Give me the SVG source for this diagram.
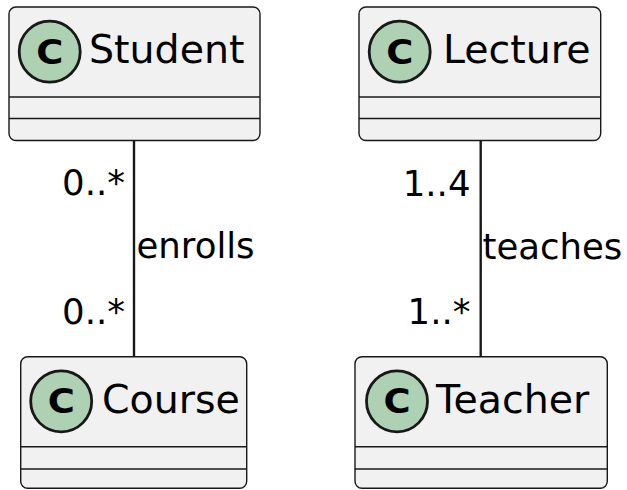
<svg xmlns="http://www.w3.org/2000/svg" width="627" height="490" viewBox="0 0 627 490">
  <style>
    .box { fill: #F1F1F1; stroke: #181818; stroke-width: 1.4; }
    .sep { stroke: #181818; stroke-width: 1.4; }
    .badge { fill: #ADD1B2; stroke: #181818; stroke-width: 2.8; }
    .badge-letter { font-family: "DejaVu Sans", sans-serif; font-weight: bold; font-size: 33px; fill: #000; text-anchor: middle; }
    .name { font-family: "DejaVu Sans", sans-serif; font-size: 39.5px; fill: #000; }
    .link { stroke: #181818; stroke-width: 2.4; fill: none; }
    .label { font-family: "DejaVu Sans", sans-serif; font-size: 35.5px; fill: #000; }
    .mult { font-family: "DejaVu Sans", sans-serif; font-size: 35.5px; fill: #000; text-anchor: end; }
  </style>
  <rect width="627" height="490" fill="#FFFFFF"/>

  <g id="connectors">
    <line class="link" x1="134" y1="140.5" x2="134" y2="356.5"/>
    <text class="mult" x="125" y="195">0..*</text>
    <text class="label" x="136.5" y="258">enrolls</text>
    <text class="mult" x="125" y="324">0..*</text>

    <line class="link" x1="480.7" y1="140.5" x2="480.7" y2="356.5"/>
    <text class="mult" x="470.5" y="196">1..4</text>
    <text class="label" x="482.5" y="259">teaches</text>
    <text class="mult" x="470.5" y="324">1..*</text>
  </g>

  <g id="Student">
    <rect class="box" x="9" y="7" width="251" height="133.5" rx="7"/>
    <line class="sep" x1="9" y1="97" x2="260" y2="97"/>
    <line class="sep" x1="9" y1="118.5" x2="260" y2="118.5"/>
    <circle class="badge" cx="49.7" cy="51.7" r="30.5"/>
    <text class="badge-letter" transform="translate(49.7 63.6) scale(1.12 1)">C</text>
    <text class="name" x="89" y="63">Student</text>
  </g>

  <g id="Lecture">
    <rect class="box" x="359" y="7" width="241.7" height="133.5" rx="7"/>
    <line class="sep" x1="359" y1="97" x2="600.7" y2="97"/>
    <line class="sep" x1="359" y1="118.5" x2="600.7" y2="118.5"/>
    <circle class="badge" cx="399.7" cy="51.7" r="30.5"/>
    <text class="badge-letter" transform="translate(399.7 63.6) scale(1.12 1)">C</text>
    <text class="name" x="443" y="63">Lecture</text>
  </g>

  <g id="Course">
    <rect class="box" x="20.7" y="356.7" width="226" height="131.6" rx="7"/>
    <line class="sep" x1="20.7" y1="446.7" x2="246.7" y2="446.7"/>
    <line class="sep" x1="20.7" y1="469" x2="246.7" y2="469"/>
    <circle class="badge" cx="61.2" cy="401.3" r="30.5"/>
    <text class="badge-letter" transform="translate(61.2 413.2) scale(1.12 1)">C</text>
    <text class="name" x="102" y="412.7">Course</text>
  </g>

  <g id="Teacher">
    <rect class="box" x="355" y="356.7" width="252.3" height="131.6" rx="7"/>
    <line class="sep" x1="355" y1="446.7" x2="607.3" y2="446.7"/>
    <line class="sep" x1="355" y1="469" x2="607.3" y2="469"/>
    <circle class="badge" cx="397" cy="401.3" r="30.5"/>
    <text class="badge-letter" transform="translate(397 413.2) scale(1.12 1)">C</text>
    <text class="name" x="436" y="412.7">Teacher</text>
  </g>
</svg>
